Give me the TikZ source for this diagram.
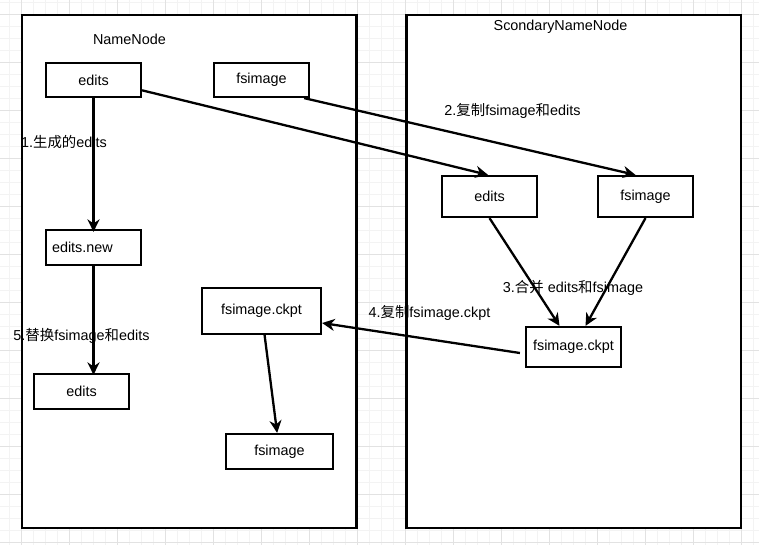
\documentclass[tikz,border=0pt]{standalone}
\usepackage{fontspec}
\setmainfont{Liberation Sans}
\newfontfamily\cjk{Noto Sans CJK SC}
\usepackage{xcolor}
\usetikzlibrary{arrows.meta}

\definecolor{gridminor}{HTML}{F3F3F3}
\definecolor{gridmajor}{HTML}{E2E2E2}
\newcommand{\zh}[1]{{\cjk #1}}

\tikzset{
  container/.style={draw, fill=white, line width=2.2pt, inner sep=0pt, minimum width=334.3pt, minimum height=512.8pt},
  box/.style={draw, fill=white, line width=2.2pt, inner sep=0pt, minimum width=95pt, minimum height=35pt},
  lbl/.style={inner sep=0pt},
  flow/.style={->, line width=2.3pt},
}

\begin{document}
\begin{tikzpicture}[x=1pt,y=-1pt,>={Stealth[length=12.5pt,width=12pt,inset=4pt]},font=\fontsize{14.4}{17}\selectfont]
\useasboundingbox (0,0) rectangle (759,545);
% grid
\foreach \x in {9.7,21.7,...,754} \draw[gridminor, line width=0.8pt] (\x,0) -- (\x,545);
\foreach \y in {2,14,...,545} \draw[gridminor, line width=0.8pt] (0,\y) -- (759,\y);
\foreach \x in {21.7,69.7,...,754} \draw[gridmajor, line width=0.8pt] (\x,0) -- (\x,545);
\foreach \y in {14,62,...,545} \draw[gridmajor, line width=0.8pt] (0,\y) -- (759,\y);

\node[container] (nn) at (189.25,271.5) {};
\node[container] (sn) at (573.6,271.5) {};

\node[lbl] (nnTitle) at (129.5,39) {NameNode};
\node[lbl] (snTitle) at (560.5,27) {ScondaryNameNode};

\node[box, minimum height=34pt] (nnEdits) at (93.5,80) {edits};
\node[box, minimum height=34pt] (nnFsimage) at (261.5,80) {fsimage};
\node[box, text width=83pt, align=left] (nnNew) at (93.5,247.5) {edits.new};
\node[box] (nnEdits2) at (81.5,391.5) {edits};
\node[box, minimum width=119pt, minimum height=46pt] (ckptL) at (261.5,311) {fsimage.ckpt};
\node[box, minimum width=107pt] (fsNew) at (279.5,451.5) {fsimage};

\node[box, minimum height=41pt] (snEdits) at (489.5,196.5) {edits};
\node[box, minimum height=41pt] (snFsimage) at (645.5,196.5) {fsimage};
\node[box, minimum height=40pt] (snCkpt) at (573.5,347) {fsimage.ckpt};

\node[lbl] (step1) at (64,142) {1.\zh{生成的}edits};
\node[lbl] (step2) at (512.5,111) {2.\zh{复制}fsimage\zh{和}edits};
\node[lbl] (step3) at (573,288) {3.\zh{合并} edits\zh{和}fsimage};
\node[lbl] (step4) at (429.5,312.5) {4.\zh{复制}fsimage.ckpt};
\node[lbl] (step5) at (81.5,336) {5.\zh{替换}fsimage\zh{和}edits};

\draw[flow] (nnEdits) -- ([yshift=-3pt]nnNew.north);
\draw[flow] (nnNew) -- ([yshift=-2pt]nnNew |- nnEdits2.north);
\draw[flow] (nnEdits.-12) -- ([xshift=-1.5pt]snEdits.north);
\draw[flow] ([xshift=-6pt]nnFsimage.south east) -- ([xshift=-10pt]snFsimage.north);
\draw[flow] (snEdits.south) -- ([xshift=-14pt]snCkpt.north);
\draw[flow] (snFsimage.south) -- ([xshift=12pt]snCkpt.north);
\draw[flow] ([xshift=-5pt,yshift=-6pt]snCkpt.west) -- ([yshift=-12pt]ckptL.east);
\draw[flow] (ckptL) -- (fsNew);
\end{tikzpicture}
\end{document}
